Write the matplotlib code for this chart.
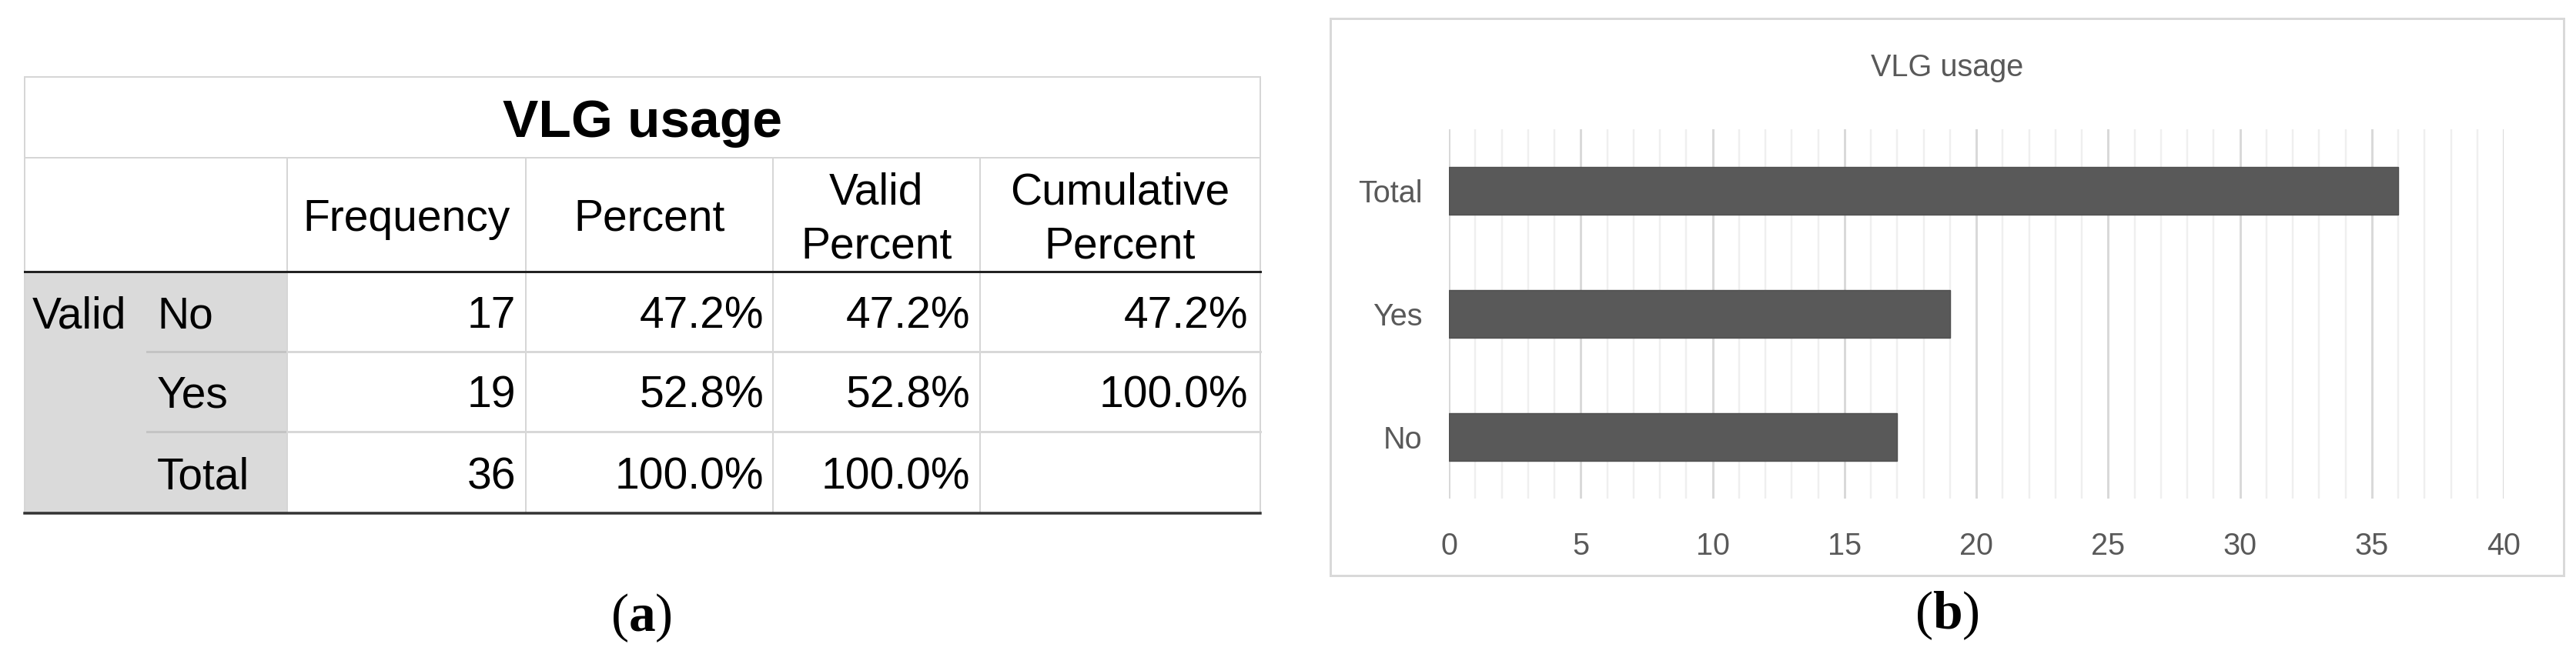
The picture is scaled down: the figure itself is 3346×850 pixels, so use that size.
import matplotlib
matplotlib.use("Agg")
import matplotlib.pyplot as plt
from matplotlib.patches import Rectangle

plt.rcParams['font.family'] = ['Liberation Sans', 'DejaVu Sans']
plt.rcParams['mathtext.fontset'] = 'custom'
plt.rcParams['mathtext.rm'] = 'Liberation Serif'
plt.rcParams['mathtext.bf'] = 'Liberation Serif:bold'

# ---------------- data ----------------
title = "VLG usage"
categories = ["No", "Yes", "Total"]
frequency = [17, 19, 36]
percent = ["47.2%", "52.8%", "100.0%"]
valid_percent = ["47.2%", "52.8%", "100.0%"]
cumulative_percent = ["47.2%", "100.0%", ""]
col_headers = [["Frequency"], ["Percent"], ["Valid", "Percent"], ["Cumulative", "Percent"]]
group_label = "Valid"
x_ticks = [0, 5, 10, 15, 20, 25, 30, 35, 40]

W, H = 3346, 850
fig = plt.figure(figsize=(W / 100, H / 100), dpi=100)
fig.patch.set_facecolor("white")

# overlay axes in pixel coordinates
ax0 = fig.add_axes([0, 0, 1, 1], zorder=0)
ax0.set_xlim(0, W)
ax0.set_ylim(H, 0)
ax0.axis("off")

PX = 72 / 100  # points per pixel

# ---------------- table (a) ----------------
L, R = 32, 1637
col_x = [373, 683, 1004, 1273]
y_top, y_title, y_head, y_bot = 100, 205, 353, 667
row_lines = [457, 561]
row_centers = [405, 509, 614]
light = "#d6d6d6"

ax0.add_patch(Rectangle((L, y_head), col_x[0] - L, y_bot - y_head,
                        facecolor="#dadada", edgecolor="none", zorder=1))
ax0.plot([L, R], [y_top, y_top], color=light, lw=2 * PX, zorder=2)
ax0.plot([L, R], [y_title, y_title], color=light, lw=2 * PX, zorder=2)
ax0.plot([L, L], [y_top, y_bot], color=light, lw=2 * PX, zorder=2)
ax0.plot([R, R], [y_top, y_bot], color=light, lw=2 * PX, zorder=2)
for cx in col_x:
    ax0.plot([cx, cx], [y_title, y_bot], color=light, lw=2 * PX, zorder=2)
for ry in row_lines:
    ax0.plot([191, col_x[0]], [ry, ry], color="#c4c4c4", lw=3 * PX, zorder=2)
    ax0.plot([col_x[0], R], [ry, ry], color="#d8d8d8", lw=3 * PX, zorder=2)
ax0.plot([L, R], [y_head, y_head], color="#222222", lw=3 * PX, zorder=3)
ax0.plot([L, R], [y_bot, y_bot], color="#333333", lw=3.5 * PX, zorder=3)

FS = 41
ax0.text((L + R) / 2, 178, title, ha="center", va="baseline",
         fontsize=50, fontweight="bold", color="black", zorder=4)

col_edges = [col_x[0], col_x[1], col_x[2], col_x[3], R]
for i, lines in enumerate(col_headers):
    cx = (col_edges[i] + col_edges[i + 1]) / 2
    if len(lines) == 1:
        ax0.text(cx, 300, lines[0], ha="center", va="baseline", fontsize=FS, zorder=4)
    else:
        ax0.text(cx, 265, lines[0], ha="center", va="baseline", fontsize=FS, zorder=4)
        ax0.text(cx, 336, lines[1], ha="center", va="baseline", fontsize=FS, zorder=4)

ax0.text(42, row_centers[0] + 21, group_label, ha="left", va="baseline", fontsize=FS, zorder=4)
right_x = [670, 992, 1260, 1621]
for r, cat in enumerate(categories):
    yb = row_centers[r] + 21
    ax0.text(204, yb, cat, ha="left", va="baseline", fontsize=FS, zorder=4)
    vals = [str(frequency[r]), percent[r], valid_percent[r], cumulative_percent[r]]
    for c, v in enumerate(vals):
        if v:
            ax0.text(right_x[c], yb, v, ha="right", va="baseline", fontsize=FS, zorder=4)

# captions
ax0.text(833, 803, r"($\mathbf{a}$)", ha="center", va="center",
         fontsize=50, family="Liberation Serif", zorder=4)
ax0.text(2529, 800, r"($\mathbf{b}$)", ha="center", va="center",
         fontsize=50, family="Liberation Serif", zorder=4)

# ---------------- chart (b) ----------------
ax0.add_patch(Rectangle((1728, 24), 3330 - 1728, 748 - 24, facecolor="white",
                        edgecolor="#d9d9d9", lw=3 * PX, zorder=1))
txt = "#595959"
fig.text(2529 / W, 1 - 88 / H, title, ha="center", va="center",
         fontsize=28.5, color=txt)

ax = fig.add_axes([1882 / W, 1 - 648 / H, (3252 - 1882) / W, (648 - 168) / H], zorder=2)
ax.set_facecolor("none")
ypos = list(range(len(categories)))
ax.barh(ypos, frequency, height=0.39, color="#595959", edgecolor="#505050",
        linewidth=1, zorder=3)
ax.set_xlim(0, 40)
ax.set_ylim(-0.5, len(categories) - 0.5)
ax.set_xticks(x_ticks)
ax.set_xticks(range(0, 41), minor=True)
ax.grid(which="minor", axis="x", color="#efefef", lw=2.4 * PX, zorder=0)
ax.grid(which="major", axis="x", color="#d9d9d9", lw=3 * PX, zorder=1)
ax.set_axisbelow(True)
ax.set_yticks(ypos)
ax.set_yticklabels(categories)
for s in ax.spines.values():
    s.set_visible(False)
ax.tick_params(axis="both", which="both", length=0, labelsize=28.5, labelcolor=txt)
ax.tick_params(axis="x", pad=31)
ax.tick_params(axis="y", pad=25)

fig.savefig("out.png", dpi=100, facecolor="white")
